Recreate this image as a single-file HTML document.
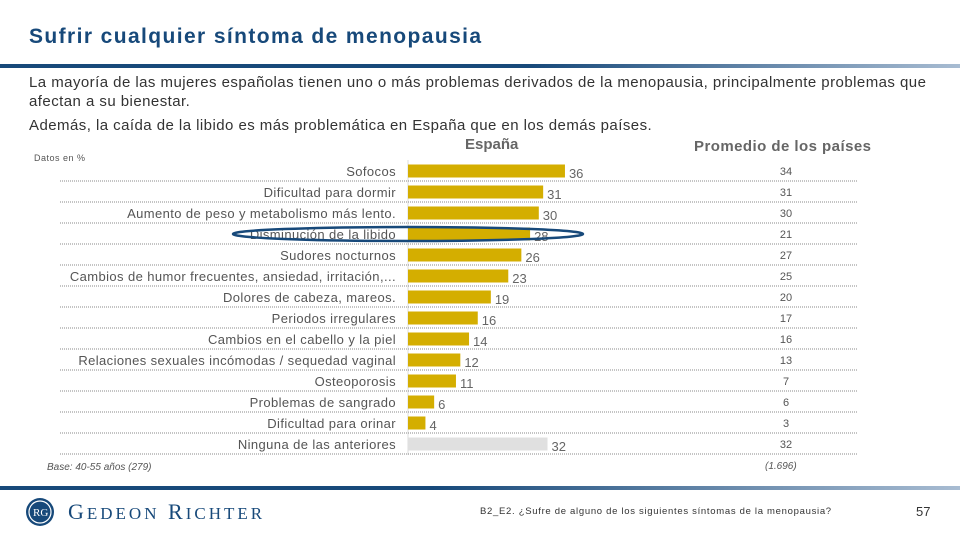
<!DOCTYPE html>
<html><head><meta charset="utf-8"><style>
body{margin:0;width:960px;height:540px;background:#fff;overflow:hidden;font-family:"Liberation Sans",sans-serif;position:relative}
.t{position:absolute;white-space:nowrap}
</style></head><body>
<div class="t" style="left:29px;top:25px;font-size:21px;font-weight:bold;color:#17497a;letter-spacing:1.4px">Sufrir cualquier síntoma de menopausia</div>
<div style="position:absolute;left:0;top:64px;width:960px;height:4px;background:linear-gradient(90deg,#17497a,#17497a 55%,#a8bcd2)"></div>
<div class="t" style="left:29px;top:73px;font-size:15px;letter-spacing:0.45px;color:#333;line-height:19px;white-space:normal;width:925px">La mayoría de las mujeres españolas tienen uno o más problemas derivados de la menopausia, principalmente problemas que afectan a su bienestar.</div>
<div class="t" style="left:29px;top:117px;font-size:15px;letter-spacing:0.45px;color:#333">Además, la caída de la libido es más problemática en España que en los demás países.</div>
<div class="t" style="left:34px;top:153px;font-size:9px;color:#555;letter-spacing:0.5px">Datos en %</div>
<div class="t" style="left:465px;top:136px;font-size:15px;font-weight:bold;color:#666">España</div>
<div class="t" style="left:694px;top:138px;font-size:15px;font-weight:bold;color:#666;letter-spacing:0.45px">Promedio de los países</div>
<svg id="chart" width="960" height="540" style="position:absolute;left:0;top:0"></svg>
<div class="t" style="left:47px;top:462px;font-size:10px;font-style:italic;color:#555">Base: 40-55 años (279)</div>
<div class="t" style="left:765px;top:461px;font-size:10px;font-style:italic;color:#555">(1.696)</div>
<div style="position:absolute;left:0;top:486px;width:960px;height:4px;background:linear-gradient(90deg,#17497a,#17497a 45%,#a8bcd2)"></div>
<svg width="30" height="30" style="position:absolute;left:25px;top:497px"><circle cx="15" cy="15" r="14" fill="#17497a"/><circle cx="15" cy="15" r="11" fill="none" stroke="#fff" stroke-width="1.2"/><text x="8" y="19" font-size="11" fill="#fff" font-family="Liberation Serif">RG</text></svg>
<div class="t" style="left:68px;top:499px;font-size:22px;font-family:'Liberation Serif',serif;color:#17497a;letter-spacing:3px">G<span style="font-size:17px">EDEON</span> R<span style="font-size:17px">ICHTER</span></div>
<div class="t" style="left:480px;top:506px;font-size:9.5px;color:#333;letter-spacing:0.7px">B2_E2. ¿Sufre de alguno de los siguientes síntomas de la menopausia?</div>
<div class="t" style="left:916px;top:504px;font-size:13px;color:#333">57</div>
<script>
const categories=["Sofocos","Dificultad para dormir","Aumento de peso y metabolismo más lento.","Disminución de la libido","Sudores nocturnos","Cambios de humor frecuentes, ansiedad, irritación,...","Dolores de cabeza, mareos.","Periodos irregulares","Cambios en el cabello y la piel","Relaciones sexuales incómodas / sequedad vaginal","Osteoporosis","Problemas de sangrado","Dificultad para orinar","Ninguna de las anteriores"];
const spainValues=[36,31,30,28,26,23,19,16,14,12,11,6,4,32];
const averageValues=[34,31,30,21,27,25,20,17,16,13,7,6,3,32];
const svg=document.getElementById('chart');
const NS='http://www.w3.org/2000/svg';
const x0=408,scale=4.36,y0=171,pitch=21;
const xs=v=>x0+v*scale;
const ys=i=>y0+i*pitch;
function mk(tag,attrs){const e=document.createElementNS(NS,tag);for(const k in attrs)e.setAttribute(k,attrs[k]);svg.appendChild(e);return e;}
mk('line',{x1:x0,y1:160,x2:x0,y2:455,stroke:'#ddd'});
categories.forEach((c,i)=>{
  const y=ys(i);
  const ln=mk('line',{x1:60,y1:y+10,x2:858,y2:y+10,stroke:'#888','stroke-dasharray':'1 1','stroke-width':1});
  
  
  const lb=mk('text',{x:396,y:y+5,'text-anchor':'end','font-size':13,fill:'#555','font-family':'Liberation Sans','letter-spacing':'0.4'});
  lb.textContent=c;
  
  
  const last=i===categories.length-1;
  const b=mk('rect',{x:x0,y:y-6.5,width:xs(spainValues[i])-x0,height:13,fill:last?'#e0e0e0':'#d4ae00'});
  
  
  const v=mk('text',{x:xs(spainValues[i])+4,y:y+7,'font-size':13,fill:'#666','font-family':'Liberation Sans'});
  v.textContent=spainValues[i];
  
  
  const a=mk('text',{x:786,y:y+4,'text-anchor':'middle','font-size':11,fill:'#555','font-family':'Liberation Sans'});
  a.textContent=averageValues[i];
  
  
});
const el=mk('ellipse',{cx:408,cy:ys(3),rx:175,ry:7,fill:'none',stroke:'#17497a','stroke-width':2.5});


</script>
</body></html>
